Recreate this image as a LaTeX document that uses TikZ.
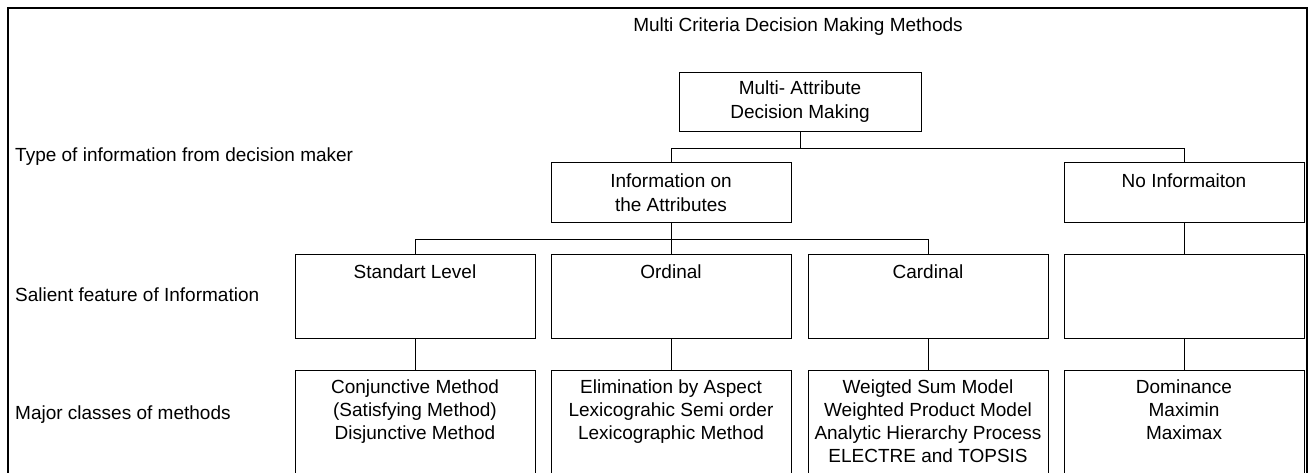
\documentclass[tikz,border=0pt]{standalone}
\usepackage{fontspec}
\setmainfont{Liberation Sans}
\newcommand{\mlines}[1]{\begin{tabular}[t]{@{}c@{}}#1\end{tabular}}
\begin{document}
\begin{tikzpicture}[x=1pt,y=-1pt,
  every node/.style={font=\fontsize{19}{23.3}\selectfont, text=black},
  box/.style={draw=black, line width=1pt, rectangle, inner sep=0pt, minimum width=240pt, anchor=north},
  lbl/.style={inner sep=0pt, anchor=base},
  sidelbl/.style={inner sep=0pt, anchor=base west},
  conn/.style={draw=black, line width=1pt},
  frame/.style={draw=black, line width=2pt}]
\useasboundingbox (0,0) rectangle (1309,473);
% outer frame (open at the bottom)
\draw[frame] (8,490) -- (8,8) -- (1307,8) -- (1307,490);
% title and row labels
\node[lbl] (title) at (798,32) {Multi Criteria Decision Making Methods};
\node[sidelbl] (rowA) at (15,161.5) {Type of information from decision maker};
\node[sidelbl] (rowB) at (15,301) {Salient feature of Information};
\node[sidelbl] (rowC) at (15,419) {Major classes of methods};
\begin{scope}[shift={(0.5,0.5)}]
% boxes
\node[box, minimum width=242pt, minimum height=59pt] (madm) at (800,72) {};
\node[box, minimum height=60pt] (info) at (671,162) {};
\node[box, minimum height=60pt] (noinfo) at (1184,162) {};
\node[box, minimum height=84pt] (std) at (415,253) {};
\node[box, minimum height=84pt] (ord) at (671,253) {};
\node[box, minimum height=84pt] (card) at (928,253) {};
\node[box, minimum height=84pt] (none) at (1184,253) {};
\node[box, minimum height=125pt] (m1) at (415,369) {};
\node[box, minimum height=125pt] (m2) at (671,369) {};
\node[box, minimum height=125pt] (m3) at (928,369) {};
\node[box, minimum height=125pt] (m4) at (1184,369) {};
% connectors
\draw[conn] (madm.south) -- ++(0,16) coordinate (j1);
\draw[conn] (j1) -| (info.north);
\draw[conn] (j1) -| (noinfo.north);
\draw[conn] (info.south) -- ++(0,16) coordinate (j2);
\draw[conn] (j2) -| (std.north);
\draw[conn] (j2) -| (card.north);
\draw[conn] (j2) -- (ord.north);
\draw[conn] (noinfo.south) -- (none.north);
\draw[conn] (std.south) -- (m1.north);
\draw[conn] (ord.south) -- (m2.north);
\draw[conn] (card.south) -- (m3.north);
\draw[conn] (none.south) -- (m4.north);
\end{scope}
% box texts
\node[lbl] (tmadm) at (800,95) {\mlines{Multi- Attribute\\Decision Making}};
\node[lbl] (tinfo) at (671,188) {\mlines{Information on\\the Attributes}};
\node[lbl] (tnoinfo) at (1184,188) {No Informaiton};
\node[lbl] (tstd) at (415,278) {Standart Level};
\node[lbl] (tord) at (671,278) {Ordinal};
\node[lbl] (tcard) at (928,278) {Cardinal};
\node[lbl] (tm1) at (415,393) {\mlines{Conjunctive Method\\(Satisfying Method)\\Disjunctive Method}};
\node[lbl] (tm2) at (671,393) {\mlines{Elimination by Aspect\\Lexicograhic Semi order\\Lexicographic Method}};
\node[lbl] (tm3) at (928,393) {\mlines{Weigted Sum Model\\Weighted Product Model\\Analytic Hierarchy Process\\ELECTRE and TOPSIS}};
\node[lbl] (tm4) at (1184,393) {\mlines{Dominance\\Maximin\\Maximax}};
\end{tikzpicture}
\end{document}
